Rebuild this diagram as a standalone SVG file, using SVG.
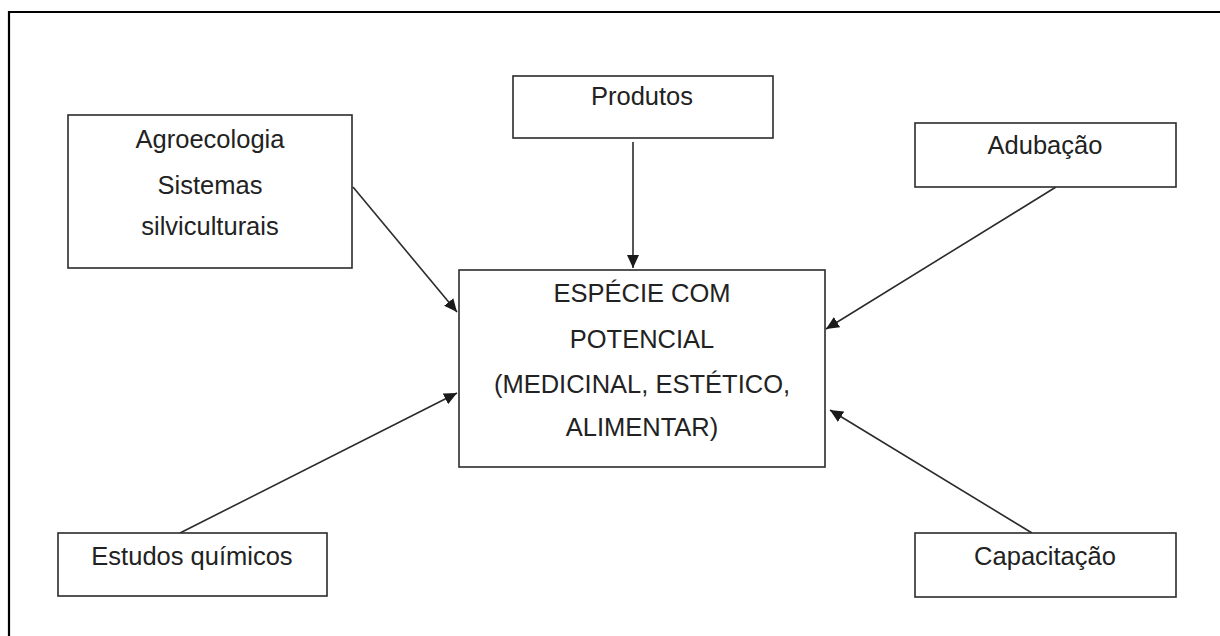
<svg xmlns="http://www.w3.org/2000/svg" width="1220" height="636" viewBox="0 0 1220 636">
  <style>
    .box { fill: #ffffff; stroke: #2b2b2b; stroke-width: 1.6; }
    .lbl { font-family: "Liberation Sans", Arial, sans-serif; font-size: 25.5px; fill: #222222; text-anchor: middle; }
    .edge { stroke: #2b2b2b; stroke-width: 1.6; fill: none; marker-end: url(#arrow); }
    .frame { stroke: #000000; stroke-width: 2.2; fill: none; }
  </style>
  <defs>
    <marker id="arrow" markerUnits="userSpaceOnUse" markerWidth="14" markerHeight="12" refX="13" refY="6" orient="auto">
      <path d="M0,0 L13,6 L0,12 Z" fill="#1a1a1a"/>
    </marker>
  </defs>

  <rect width="1220" height="636" fill="#ffffff"/>

  <!-- page frame: top and left edges only -->
  <path class="frame" d="M9,636 L9,12 L1220,12"/>

  <!-- connectors -->
  <g id="connectors">
    <line class="edge" x1="633" y1="142" x2="633" y2="268"/>
    <line class="edge" x1="353" y1="187" x2="457" y2="312"/>
    <line class="edge" x1="1056" y1="187" x2="826" y2="329"/>
    <line class="edge" x1="180" y1="533" x2="457" y2="393"/>
    <line class="edge" x1="1032" y1="533" x2="830" y2="410"/>
  </g>

  <g id="node-produtos">
    <rect class="box" x="513" y="76" width="260" height="62"/>
    <text class="lbl" x="642" y="105">Produtos</text>
  </g>

  <g id="node-agroecologia">
    <rect class="box" x="68" y="115" width="284" height="153"/>
    <text class="lbl" x="210" y="148">Agroecologia</text>
    <text class="lbl" x="210" y="194">Sistemas</text>
    <text class="lbl" x="210" y="235">silviculturais</text>
  </g>

  <g id="node-adubacao">
    <rect class="box" x="915" y="123" width="261" height="64"/>
    <text class="lbl" x="1045" y="154">Adubação</text>
  </g>

  <g id="node-especie">
    <rect class="box" x="459" y="270" width="366" height="197"/>
    <text class="lbl" x="642" y="302">ESPÉCIE COM</text>
    <text class="lbl" x="642" y="348">POTENCIAL</text>
    <text class="lbl" x="642" y="393">(MEDICINAL, ESTÉTICO,</text>
    <text class="lbl" x="642" y="436">ALIMENTAR)</text>
  </g>

  <g id="node-estudos">
    <rect class="box" x="58" y="533" width="269" height="63"/>
    <text class="lbl" x="192" y="565">Estudos químicos</text>
  </g>

  <g id="node-capacitacao">
    <rect class="box" x="915" y="533" width="261" height="64"/>
    <text class="lbl" x="1045" y="565">Capacitação</text>
  </g>
</svg>
